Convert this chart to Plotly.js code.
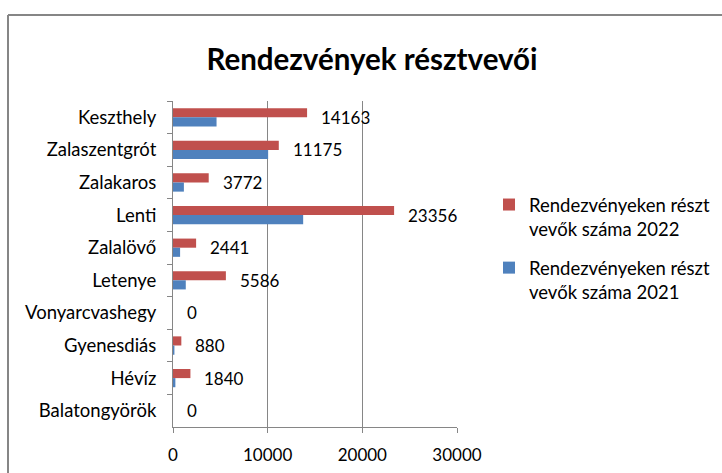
<!DOCTYPE html>
<html>
<head>
<meta charset="utf-8">
<script src="https://cdn.plot.ly/plotly-3.0.1.min.js"></script>
<style>html,body{margin:0;padding:0;background:#fff;}#chart{width:722px;height:473px;}</style>
</head>
<body>
<div id="chart"></div>
<script>
const categories = ["Keszthely", "Zalaszentgrót", "Zalakaros", "Lenti", "Zalalövő", "Letenye", "Vonyarcvashegy", "Gyenesdiás", "Hévíz", "Balatongyörök"];
const values2022 = [14163, 11175, 3772, 23356, 2441, 5586, 0, 880, 1840, 0];
const values2021 = [4600, 10050, 1150, 13750, 750, 1350, 0, 150, 250, 0];
const name2022 = "Rendezvényeken részt<br>vevők száma 2022";
const name2021 = "Rendezvényeken részt<br>vevők száma 2021";
const xTicks = [0, 10000, 20000, 30000];

const FONT = "Lato, 'Open Sans', sans-serif";
const L = 173, R = 265, T = 101, B = 46;
const W = 722 - L - R, H = 473 - T - B;
const px = x => (x - L) / W;
const py = y => (473 - B - y) / H;

const traces = [
  {type: "bar", orientation: "h", name: name2022, y: categories, x: values2022,
   legendgroup: "a", marker: {color: "#C0504D"}, hoverinfo: "x+y"},
  {type: "bar", orientation: "h", name: name2021, y: categories, x: values2021,
   legendgroup: "b", marker: {color: "#4F81BD"}, hoverinfo: "x+y"}
];

const annotations = categories.map((c, i) => ({
  x: values2022[i], y: c, xref: "x", yref: "y", text: String(values2022[i]),
  showarrow: false, xanchor: "left", yanchor: "middle", xshift: 12,
  font: {family: FONT, size: 17, color: "#000"}
}));

const layout = {
  width: 722, height: 473,
  margin: {l: L, r: R, t: T, b: B, pad: 0, autoexpand: false},
  paper_bgcolor: "#fff", plot_bgcolor: "#fff",
  font: {family: FONT, size: 18.5, color: "#000"},
  title: {text: "<b>Rendezvények résztvevői</b>", x: 372/722, xanchor: "center",
          y: 1 - 60/473, yanchor: "middle", xref: "container", yref: "container",
          font: {family: FONT, size: 29.5, color: "#000"}},
  barmode: "group", bargap: 0.44, bargroupgap: 0,
  showlegend: true,
  legend: {x: px(489), y: py(186), xanchor: "left", yanchor: "top",
           traceorder: "grouped", tracegroupgap: 12, valign: "top",
           font: {family: FONT, size: 18.5, color: "#000"},
           bgcolor: "rgba(0,0,0,0)"},
  xaxis: {range: [0, 30000], tickvals: xTicks, ticktext: xTicks.map(String),
          showgrid: true, gridcolor: "#868686", gridwidth: 1,
          showline: true, linecolor: "#868686", linewidth: 1,
          ticks: "outside", ticklen: 5, tickcolor: "#868686",
          ticklabelstandoff: 8, zeroline: false, fixedrange: true,
          tickfont: {family: FONT, size: 17, color: "#000"}},
  yaxis: {type: "category", autorange: "reversed", showgrid: false,
          showline: true, linecolor: "#868686", linewidth: 1,
          ticks: "outside", ticklen: 5, tickcolor: "#868686", tickson: "boundaries",
          ticklabelstandoff: 12, zeroline: false, fixedrange: true,
          tickfont: {family: FONT, size: 18.5, color: "#000"}},
  annotations: annotations,
  shapes: [
    {type: "line", xref: "paper", yref: "paper", x0: px(8), x1: px(722), y0: py(15), y1: py(15),
     line: {color: "#868686", width: 2}},
    {type: "line", xref: "paper", yref: "paper", x0: px(8), x1: px(8), y0: py(15), y1: py(473),
     line: {color: "#868686", width: 2}}
  ]
};

Plotly.newPlot("chart", traces, layout, {displayModeBar: false, staticPlot: true});
</script>
</body>
</html>
